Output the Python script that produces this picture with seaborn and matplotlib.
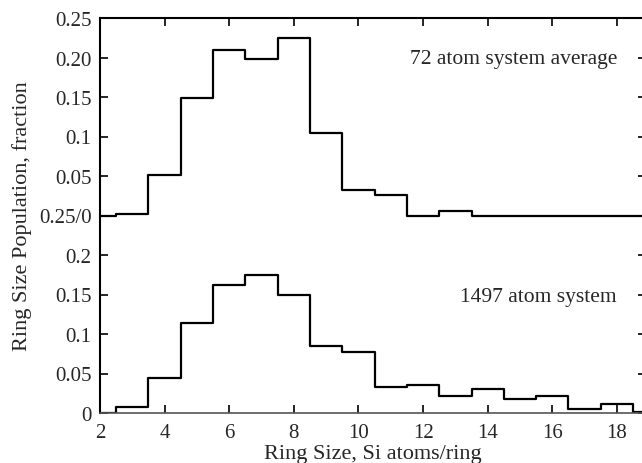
import matplotlib
matplotlib.use("Agg")
import matplotlib.pyplot as plt
import seaborn as sns
import numpy as np
import pandas as pd

# Data
ring_sizes = [2, 3, 4, 5, 6, 7, 8, 9, 10, 11, 12, 13, 14, 15, 16, 17, 18, 19]
pop_1497 = [0.0, 0.008, 0.0445, 0.114, 0.162, 0.175, 0.149, 0.085, 0.077, 0.033,
            0.036, 0.022, 0.031, 0.018, 0.021, 0.0055, 0.012, 0.001]
pop_72 = [0.0, 0.002, 0.0514, 0.149, 0.2095, 0.1986, 0.225, 0.104, 0.0325, 0.0257,
          0.0, 0.006, 0.0, 0.0, 0.0, 0.0, 0.0, 0.0]
ytick_labels = ['0', '0.05', '0.1', '0.15', '0.2', '0.25/0',
                '0.05', '0.1', '0.15', '0.20', '0.25']
xtick_labels = ['2', '4', '6', '8', '10', '12', '14', '16', '18']
label_72 = "72 atom system average"
label_1497 = "1497 atom system"
xlabel = "Ring Size, Si atoms/ring"
ylabel = "Ring Size Population, fraction"

sns.set_style("ticks")
plt.rcParams['font.family'] = ['Liberation Serif', 'DejaVu Serif']
plt.rcParams['mathtext.fontset'] = 'stix'

offset = 0.25
df_low = pd.DataFrame({"size": ring_sizes, "pop": pop_1497})
df_up = pd.DataFrame({"size": ring_sizes, "pop": np.array(pop_72) + offset})

fig = plt.figure(figsize=(6.42, 4.64), dpi=100)
ax = fig.add_axes([100/642, 50/464, 546/642, 395/464])

sns.lineplot(data=df_low, x="size", y="pop", ax=ax, color="black", lw=1.6,
             drawstyle="steps-mid", estimator=None)
sns.lineplot(data=df_up, x="size", y="pop", ax=ax, color="black", lw=1.6,
             drawstyle="steps-mid", estimator=None)

ax.set_xlim(2, 18.9)
ax.set_ylim(0, 0.5)
ax.set_xticks([int(t) for t in xtick_labels])
ax.set_xticklabels(xtick_labels)
ax.set_yticks(np.linspace(0, 0.5, len(ytick_labels)))
ax.set_yticklabels(ytick_labels)

ax.tick_params(axis='both', direction='in', length=6, width=1.2, labelsize=15,
               top=True, right=True, color='black')
ax.tick_params(axis='x', pad=7)
ax.tick_params(axis='y', pad=6)

for side in ['left', 'top', 'right']:
    ax.spines[side].set_color('black')
    ax.spines[side].set_linewidth(1.5)
ax.spines['bottom'].set_color('#555555')
ax.spines['bottom'].set_linewidth(1.2)

ax.set_xlabel(xlabel, fontsize=16, labelpad=1.5)
ax.set_ylabel(ylabel, fontsize=16, labelpad=5)

ax.text(18.0, 0.449, label_72, ha='right', va='center', fontsize=15.5)
ax.text(18.0, 0.148, label_1497, ha='right', va='center', fontsize=15.5)

fig.savefig("out.png", dpi=100)
